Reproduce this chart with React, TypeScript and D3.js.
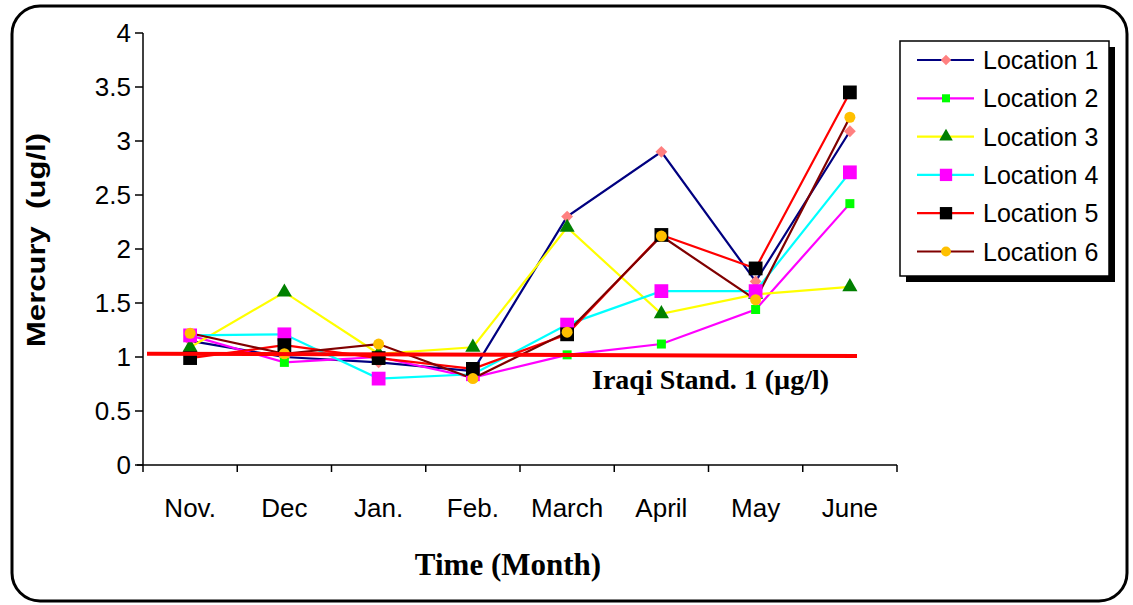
import React from "react";
import * as d3 from "d3";

const width = 1133;
const height = 605;
const plot = { left: 143, right: 897, top: 33, bottom: 465 };

const months = ["Nov.", "Dec", "Jan.", "Feb.", "March", "April", "May", "June"];
const yTicks = [0, 0.5, 1, 1.5, 2, 2.5, 3, 3.5, 4];

const loc1 = [1.15, 1.0, 0.95, 0.87, 2.3, 2.9, 1.7, 3.09];
const loc2 = [1.2, 0.95, 1.0, 0.81, 1.02, 1.12, 1.44, 2.42];
const loc3 = [1.09, 1.6, 1.03, 1.09, 2.2, 1.4, 1.58, 1.65];
const loc4 = [1.2, 1.21, 0.8, 0.84, 1.3, 1.61, 1.61, 2.71];
const loc5 = [0.99, 1.11, 0.99, 0.89, 1.21, 2.13, 1.82, 3.45];
const loc6 = [1.22, 1.03, 1.12, 0.8, 1.23, 2.12, 1.53, 3.22];

// Iraqi standard line, drawn slightly sloped like the original
const standardValues = [1.03, 1.01];
const standardLabel = "Iraqi Stand. 1 (µg/l)";

interface Series {
  name: string;
  values: number[];
  line: string;
  fill: string;
  symbol: d3.SymbolType;
  size: number;
  rotate: number;
}

const series: Series[] = [
  { name: "Location 1", values: loc1, line: "#000080", fill: "#FF8080", symbol: d3.symbolSquare, size: 70, rotate: 45 },
  { name: "Location 2", values: loc2, line: "#FF00FF", fill: "#00FF00", symbol: d3.symbolSquare, size: 81, rotate: 0 },
  { name: "Location 3", values: loc3, line: "#FFFF00", fill: "#008000", symbol: d3.symbolTriangle, size: 100, rotate: 0 },
  { name: "Location 4", values: loc4, line: "#00FFFF", fill: "#FF00FF", symbol: d3.symbolSquare, size: 190, rotate: 0 },
  { name: "Location 5", values: loc5, line: "#FF0000", fill: "#000000", symbol: d3.symbolSquare, size: 190, rotate: 0 },
  { name: "Location 6", values: loc6, line: "#800000", fill: "#FFC000", symbol: d3.symbolCircle, size: 95, rotate: 0 },
];

const x = d3.scaleBand<string>().domain(months).range([plot.left, plot.right]);
const y = d3.scaleLinear().domain([0, 4]).range([plot.bottom, plot.top]);
const cx = (m: string) => (x(m) as number) + x.bandwidth() / 2;

const sans = "'Liberation Sans', Arial, sans-serif";
const serif = "'Liberation Serif', 'Times New Roman', serif";

const App = () => {
  const line = d3
    .line<number>()
    .x((_, i) => cx(months[i]))
    .y((d) => y(d));
  const bounds = months.map((m) => x(m) as number).concat([plot.right]);
  const legend = { x: 900, y: 41, w: 209, h: 235, row: 38.3 };

  return (
    <svg width={width} height={height} style={{ position: "absolute", left: 0, top: 0 }}>
      <rect x={0} y={0} width={width} height={height} fill="#fff" />
      <rect x={12} y={6} width={1115} height={595} rx={28} fill="#fff" stroke="#000" strokeWidth={3} />

      {/* y axis */}
      <line x1={plot.left} x2={plot.left} y1={plot.top} y2={plot.bottom} stroke="#000" strokeWidth={1.5} />
      {yTicks.map((t) => (
        <g key={t} transform={`translate(0,${y(t)})`}>
          <line x1={plot.left - 8} x2={plot.left} stroke="#000" strokeWidth={1.5} />
          <text x={plot.left - 12} dy="0.36em" textAnchor="end" fontFamily={sans} fontSize={26}>
            {t}
          </text>
        </g>
      ))}

      {/* x axis */}
      <line x1={plot.left - 6} x2={plot.right} y1={plot.bottom} y2={plot.bottom} stroke="#000" strokeWidth={1.5} />
      {bounds.map((b, i) => (
        <line key={i} x1={b} x2={b} y1={plot.bottom} y2={plot.bottom + 7} stroke="#000" strokeWidth={1.5} />
      ))}
      {months.map((m) => (
        <text key={m} x={cx(m)} y={517} textAnchor="middle" fontFamily={sans} fontSize={26}>
          {m}
        </text>
      ))}

      <text
        transform={`translate(45,240) rotate(-90)`}
        textAnchor="middle"
        fontFamily={sans}
        fontWeight="bold"
        fontSize={25}
        textLength={214}
        lengthAdjust="spacingAndGlyphs"
        style={{ whiteSpace: "pre" }}
      >
        {"Mercury  (ug/l)"}
      </text>
      <text x={508} y={575} textAnchor="middle" fontFamily={serif} fontWeight="bold" fontSize={31}>
        Time (Month)
      </text>

      {/* series */}
      {series.map((s) => (
        <path key={s.name} d={line(s.values) as string} fill="none" stroke={s.line} strokeWidth={2.2} />
      ))}
      {series.map((s) =>
        s.values.map((v, i) => (
          <path
            key={s.name + i}
            transform={`translate(${cx(months[i])},${y(v)}) rotate(${s.rotate})`}
            d={d3.symbol(s.symbol, s.size)() as string}
            fill={s.fill}
          />
        ))
      )}

      {/* standard */}
      <line
        x1={147}
        x2={857}
        y1={y(standardValues[0])}
        y2={y(standardValues[1])}
        stroke="#FF0000"
        strokeWidth={4}
      />
      <text x={592} y={389} fontFamily={serif} fontWeight="bold" fontSize={28}>
        {standardLabel}
      </text>

      {/* legend */}
      <rect x={legend.x + 6} y={legend.y + 6} width={legend.w} height={legend.h} fill="#000" />
      <rect x={legend.x} y={legend.y} width={legend.w} height={legend.h} fill="#fff" stroke="#000" strokeWidth={1.5} />
      {series.map((s, i) => {
        const ry = legend.y + 19 + i * legend.row;
        return (
          <g key={s.name} transform={`translate(${legend.x},${ry})`}>
            <line x1={17} x2={74} stroke={s.line} strokeWidth={2.2} />
            <path
              transform={`translate(46,0) rotate(${s.rotate})`}
              d={d3.symbol(s.symbol, s.size * 0.8)() as string}
              fill={s.fill}
            />
            <text x={83} dy="0.36em" fontFamily={sans} fontSize={25}>
              {s.name}
            </text>
          </g>
        );
      })}
    </svg>
  );
};

export default App;
